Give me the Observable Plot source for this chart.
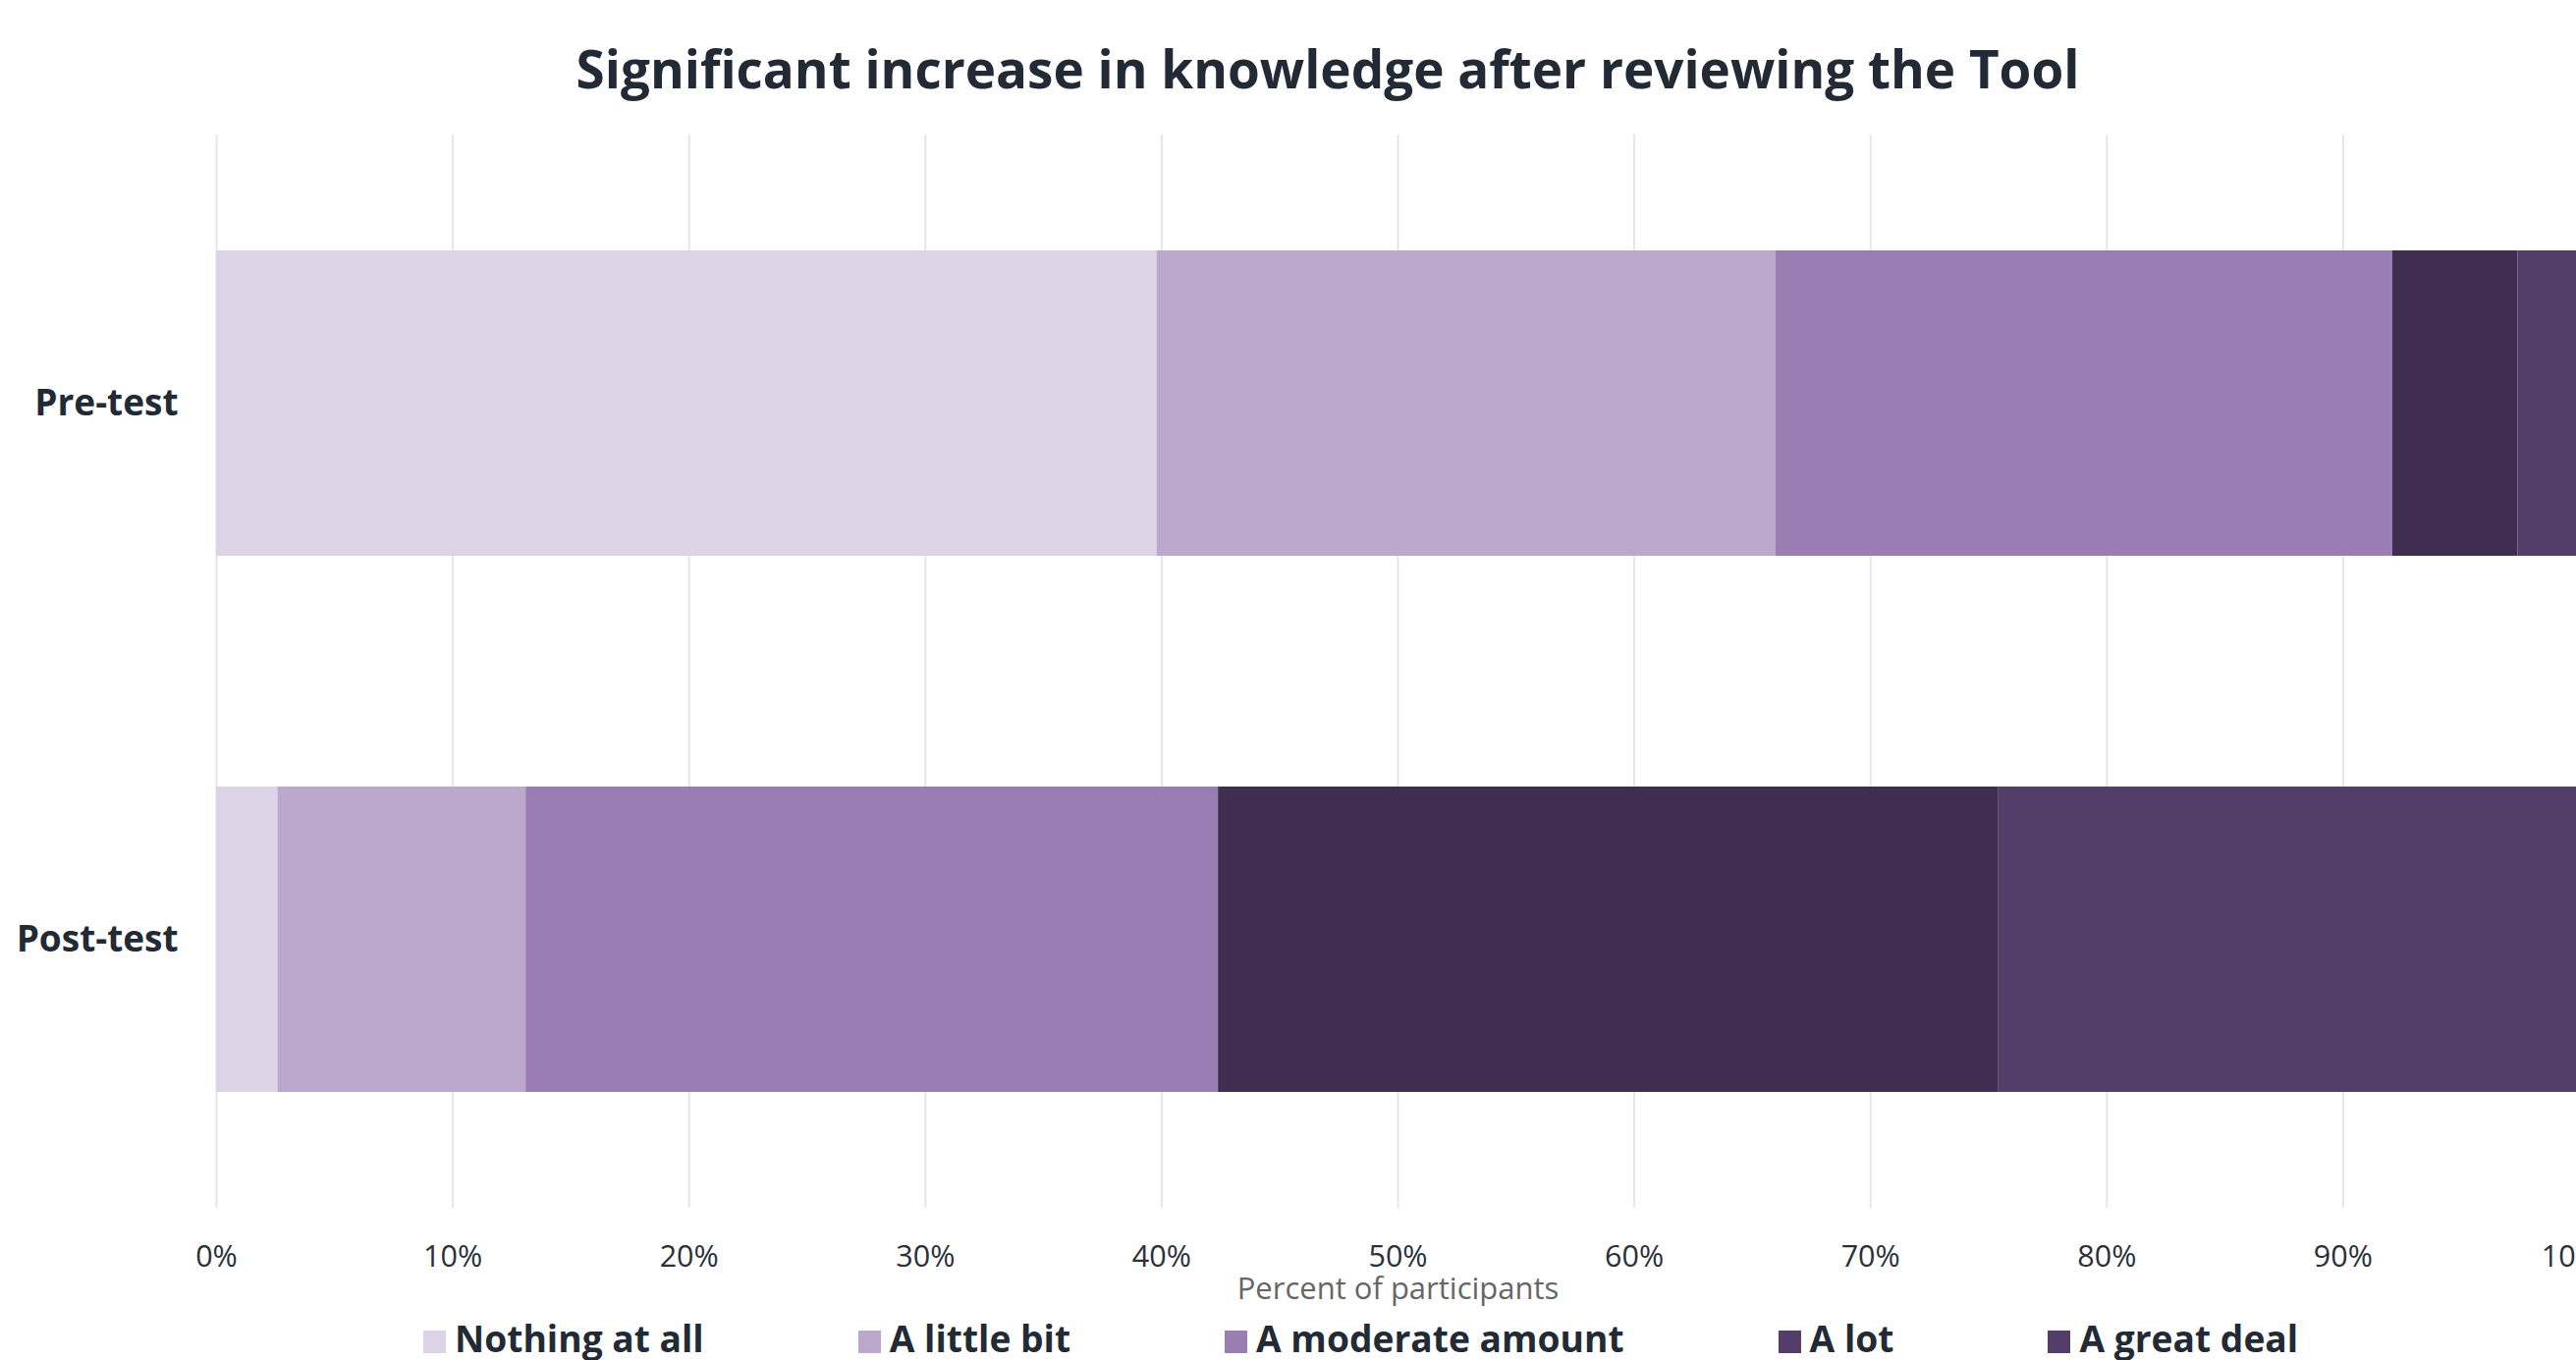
<!DOCTYPE html>
<html>
<head>
<meta charset="utf-8">
<script src="https://cdn.jsdelivr.net/npm/d3@7"></script>
<script src="https://cdn.jsdelivr.net/npm/@observablehq/plot@0.6"></script>
<style>
  html, body { margin: 0; padding: 0; background: #fff; overflow: hidden; }
  #wrap { position: relative; width: 2704px; height: 1385px; font-family: "Open Sans", sans-serif; }
  #title { position: absolute; left: 0; top: 42px; width: 2704px; text-align: center;
           font-size: 53px; line-height: 56px; font-weight: 700; color: #222a35; white-space: nowrap; }
  #chart { position: absolute; left: 0; top: 0; }
  #chart svg { max-width: none !important; overflow: visible; }
  #legend { position: absolute; left: 431px; top: 1344px; display: flex; align-items: flex-start; white-space: nowrap; }
  .item { display: flex; align-items: flex-start; margin-right: 157px; }
  .sw { width: 23px; height: 23px; margin-top: 11px; margin-right: 9px; }
  .lab { font-size: 37.2px; line-height: 37px; font-weight: 700; color: #222a35; }
</style>
</head>
<body>
<div id="wrap">
  <div id="chart"></div>
  <div id="title">Significant increase in knowledge after reviewing the Tool</div>
  <div id="legend"></div>
</div>
<script>
// ---- data ----
const categories = ["Pre-test", "Post-test"];
const responses = ["Nothing at all", "A little bit", "A moderate amount", "A lot", "A great deal"];
const preTest = [39.8, 26.2, 26.1, 5.3, 2.6];
const postTest = [2.6, 10.5, 29.3, 33.0, 24.6];
const colors = ["#dcd3e6", "#bca8cc", "#9a7db3", "#3f2e50", "#533d69"];
const legendColors = ["#dcd3e6", "#bca8cc", "#9a7db3", "#533d69", "#533d69"];
const xTicks = [0, 10, 20, 30, 40, 50, 60, 70, 80, 90, 100];
const xLabel = "Percent of participants";

const seriesByGroup = {"Pre-test": preTest, "Post-test": postTest};
const rows = [];
for (const g of categories) {
  responses.forEach((r, i) => rows.push({group: g, response: r, value: seriesByGroup[g][i]}));
}

const chart = Plot.plot({
  width: 2704,
  height: 1340,
  marginLeft: 220,
  marginRight: 78,
  marginTop: 137,
  marginBottom: 110,
  style: {fontFamily: "Open Sans, sans-serif", background: "white", maxWidth: "none", overflow: "visible"},
  x: {domain: [0, 100]},
  y: {domain: categories, paddingInner: 0.431, paddingOuter: 0.215},
  color: {domain: responses, range: colors},
  marks: [
    Plot.gridX(xTicks, {stroke: "#e6e6e6", strokeWidth: 2, strokeOpacity: 1}),
    Plot.barX(rows, Plot.stackX({x: "value", y: "group", fill: "response"})),
    Plot.axisX(xTicks, {tickSize: 0, tickPadding: 38, tickFormat: d => d + "%", fontSize: 30.5, fill: "#2b303a", label: null}),
    Plot.axisY({tickSize: 0, tickPadding: 39, fontSize: 37, fontWeight: "bold", fill: "#222a35", label: null}),
    Plot.text([xLabel], {text: d => d, frameAnchor: "bottom", dy: 92, fontSize: 31, fill: "#666666"})
  ]
});
document.getElementById("chart").appendChild(chart);

const legend = document.getElementById("legend");
responses.forEach((r, i) => {
  const item = document.createElement("div");
  item.className = "item";
  const sw = document.createElement("div");
  sw.className = "sw";
  sw.style.background = legendColors[i];
  const lab = document.createElement("div");
  lab.className = "lab";
  lab.textContent = r;
  item.appendChild(sw);
  item.appendChild(lab);
  legend.appendChild(item);
});
</script>
</body>
</html>
